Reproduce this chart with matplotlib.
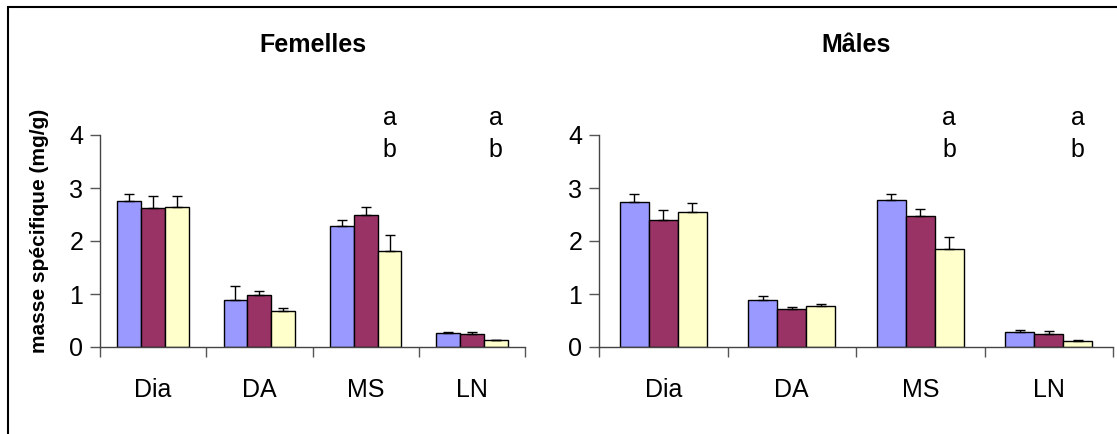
import numpy as np
import matplotlib
matplotlib.use("Agg")
import matplotlib.pyplot as plt
from matplotlib.patches import Rectangle

plt.rcParams['font.family'] = ['Liberation Sans', 'DejaVu Sans']

categories = ["Dia", "DA", "MS", "LN"]
colors = ["#9999FF", "#993366", "#FFFFCC"]

# femelles: three groups per category, upper error bars
fem_vals = [[2.75, 0.88, 2.29, 0.27],
            [2.63, 0.98, 2.50, 0.25],
            [2.65, 0.67, 1.81, 0.13]]
fem_err = [[0.13, 0.27, 0.11, 0.02],
           [0.21, 0.08, 0.15, 0.04],
           [0.20, 0.06, 0.30, 0.01]]

# males
mal_vals = [[2.73, 0.88, 2.78, 0.28],
            [2.40, 0.71, 2.48, 0.24],
            [2.54, 0.78, 1.84, 0.12]]
mal_err = [[0.15, 0.09, 0.11, 0.05],
           [0.19, 0.05, 0.12, 0.06],
           [0.17, 0.04, 0.24, 0.02]]

# significance letters over the third bar of MS and LN
sig_cats = [2, 3]
sig_letters = ["a", "b"]
sig_y = [4.33, 3.72]

W, H = 1117, 434
fig = plt.figure(figsize=(W / 100, H / 100), dpi=100)

bw = 0.225


def draw_panel(ax, vals, errs, title):
    x = np.arange(len(categories)) + 0.5
    for i in range(3):
        xi = x + (i - 1) * bw
        ax.bar(xi, vals[i], width=bw, color=colors[i], edgecolor="black", linewidth=1.0, zorder=2)
        ax.errorbar(xi, vals[i], yerr=[np.zeros(len(errs[i])), errs[i]], fmt="none",
                    ecolor="black", elinewidth=1.0, capsize=3.5, capthick=1.0, zorder=3)
    for c in sig_cats:
        for letter, yy in zip(sig_letters, sig_y):
            ax.text(c + 0.5 + bw, yy, letter, ha="center", va="center", fontsize=18, clip_on=False)
    ax.set_xlim(0, 4)
    ax.set_ylim(0, 4)
    ax.set_yticks([0, 1, 2, 3, 4])
    ax.set_xticks([0, 1, 2, 3, 4])
    ax.set_xticklabels([])
    ax.set_xticks(x, minor=True)
    ax.set_xticklabels(categories, minor=True, fontsize=18)
    ax.tick_params(axis="x", which="minor", length=0, pad=22)
    ax.tick_params(axis="x", which="major", direction="out", length=7, width=1, color="#555555")
    ax.tick_params(axis="y", direction="out", length=7, width=1, color="#555555", labelsize=18, pad=5)
    for s in ["top", "right"]:
        ax.spines[s].set_visible(False)
    for s in ["left", "bottom"]:
        ax.spines[s].set_color("#444444")
        ax.spines[s].set_linewidth(1.0)
    ax.text(0.5, (347 - 45) / 212, title, transform=ax.transAxes, ha="center", va="center",
            fontsize=18, fontweight="bold")


ax1 = fig.add_axes([100 / W, (H - 347) / H, 425 / W, 212 / H])
ax2 = fig.add_axes([599 / W, (H - 347) / H, 514 / W, 212 / H])
draw_panel(ax1, fem_vals, fem_err, "Femelles")
draw_panel(ax2, mal_vals, mal_err, "Mâles")

fig.text(40 / W, 1 - 231 / H, "masse spécifique (mg/g)", rotation=90, ha="center", va="center",
         fontsize=15, fontweight="bold")

# outer frame (right and bottom edges fall outside the picture)
fig.patches.append(Rectangle((8 / W, -0.05), 1.2, 1 - 7 / H + 0.05, transform=fig.transFigure,
                             fill=False, edgecolor="black", linewidth=1.5))

fig.savefig("out.png", dpi=100)
